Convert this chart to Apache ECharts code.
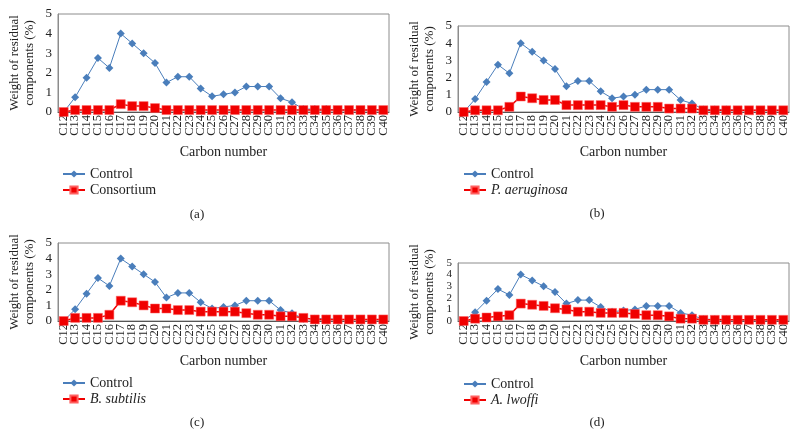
<!DOCTYPE html>
<html>
<head>
<meta charset="utf-8">
<script src="https://cdn.jsdelivr.net/npm/echarts@6/dist/echarts.min.js"></script>
<style>html,body{margin:0;padding:0;background:#fff;}#c{width:799px;height:438px;}</style>
</head>
<body>
<div id="c"></div>
<script>
const categories = ['C12','C13','C14','C15','C16','C17','C18','C19','C20','C21','C22','C23','C24','C25','C26','C27','C28','C29','C30','C31','C32','C33','C34','C35','C36','C37','C38','C39','C40'];
const control = [0,0.75,1.75,2.75,2.25,4.0,3.5,3.0,2.5,1.5,1.8,1.8,1.2,0.8,0.9,1.0,1.3,1.3,1.3,0.7,0.5,0.15,0.15,0.15,0.1,0.1,0.1,0.1,0.1];
const consortium = [0,0.1,0.1,0.1,0.1,0.4,0.3,0.3,0.2,0.1,0.1,0.1,0.1,0.1,0.1,0.1,0.1,0.1,0.1,0.1,0.1,0.1,0.1,0.1,0.1,0.1,0.1,0.1,0.1];
const pAeruginosa = [0,0.1,0.1,0.1,0.3,0.9,0.8,0.7,0.7,0.4,0.4,0.4,0.4,0.3,0.4,0.3,0.3,0.3,0.2,0.2,0.2,0.1,0.1,0.1,0.1,0.1,0.1,0.1,0.1];
const bSubtilis = [0,0.2,0.2,0.2,0.4,1.3,1.2,1.0,0.8,0.8,0.7,0.7,0.6,0.6,0.6,0.6,0.5,0.4,0.4,0.3,0.3,0.2,0.1,0.1,0.1,0.1,0.1,0.1,0.1];
const aLwoffi = [0,0.2,0.3,0.4,0.5,1.5,1.4,1.3,1.1,1.0,0.8,0.8,0.7,0.7,0.7,0.6,0.5,0.5,0.4,0.2,0.2,0.1,0.1,0.1,0.1,0.1,0.1,0.1,0.1];
const treatNames = ['Consortium','P. aeruginosa','B. subtilis','A. lwoffi'];
const treatData = [consortium, pAeruginosa, bSubtilis, aLwoffi];
const panelLabels = ['(a)','(b)','(c)','(d)'];
const yTicks = [0,1,2,3,4,5];

const FONT = 'Liberation Serif';
const BLUE = '#4A7EBB';
const RED = '#F00000';

const grids = [
  {left:58, top:14, width:331, height:98},
  {left:458, top:26, width:331, height:86},
  {left:58, top:243, width:331, height:78},
  {left:458, top:263, width:331, height:58}
];
const legendPos = [
  {left:57, top:162},
  {left:458, top:162},
  {left:57, top:371},
  {left:458, top:372}
];
const yLabelSize = [13, 13, 13, 11];
const labelPos = [[197,215],[597,214],[197,423],[597,423]];

const option = {
  animation:false,
  backgroundColor:'#fff',
  grid: grids.map(g => Object.assign({show:true, borderColor:'#8c8c8c', borderWidth:1, containLabel:false}, g)),
  xAxis: grids.map((g,i) => ({
    type:'category', gridIndex:i, data:categories, boundaryGap:true,
    name:'Carbon number', nameLocation:'middle', nameGap:33,
    nameTextStyle:{fontFamily:FONT, fontSize:14, color:'#222'},
    axisLine:{lineStyle:{color:'#555', width:1}},
    axisTick:{show:false},
    axisLabel:{rotate:90, interval:0, fontFamily:FONT, fontSize:12.5, color:'#222', margin:3}
  })),
  yAxis: grids.map((g,i) => ({
    type:'value', gridIndex:i, min:yTicks[0], max:yTicks[yTicks.length-1], interval:1,
    name:'Weight of residual\ncomponents (%)', nameLocation:'middle', nameGap:21, nameRotate:90,
    nameTextStyle:{fontFamily:FONT, fontSize:13, color:'#222', lineHeight:15},
    axisLine:{show:true, lineStyle:{color:'#8c8c8c'}},
    axisTick:{show:false},
    splitLine:{show:false},
    axisLabel:{fontFamily:FONT, fontSize:yLabelSize[i], color:'#222', margin:6, showMinLabel:true, showMaxLabel:true, hideOverlap:false, lineHeight:yLabelSize[i] - 2, padding:0}
  })),
  legend: grids.map((g,i) => Object.assign({
    orient:'vertical', data:['Control', treatNames[i]], itemWidth:22, itemHeight:9, itemGap:2,
    textStyle:{fontFamily:FONT, fontSize:14, color:'#222', rich:{it:{fontFamily:FONT, fontSize:14, fontStyle:'italic', color:'#222'}}},
    formatter: n => n === 'Control' || n === 'Consortium' ? n : '{it|' + n + '}',
    selectedMode:false
  }, legendPos[i])),
  graphic: panelLabels.map((t,i) => ({
    type:'text', x:labelPos[i][0], y:labelPos[i][1],
    style:{text:t, font:'13px "Liberation Serif"', fill:'#222', textAlign:'center', textVerticalAlign:'middle'}
  })),
  series: []
};
for (let i = 0; i < 4; i++) {
  option.series.push({
    name:'Control', type:'line', xAxisIndex:i, yAxisIndex:i, data:control,
    symbol:'diamond', symbolSize:8, z:2,
    lineStyle:{color:BLUE, width:1}, itemStyle:{color:BLUE}
  });
  option.series.push({
    name:treatNames[i], type:'line', xAxisIndex:i, yAxisIndex:i, data:treatData[i],
    symbol:'rect', symbolSize:9, z:3,
    lineStyle:{color:RED, width:1.5}, itemStyle:{color:RED, borderColor:'#ff6060', borderWidth:0.5}
  });
}
const chart = echarts.init(document.getElementById('c'), null, {renderer:'canvas'});
chart.setOption(option);
</script>
</body>
</html>
